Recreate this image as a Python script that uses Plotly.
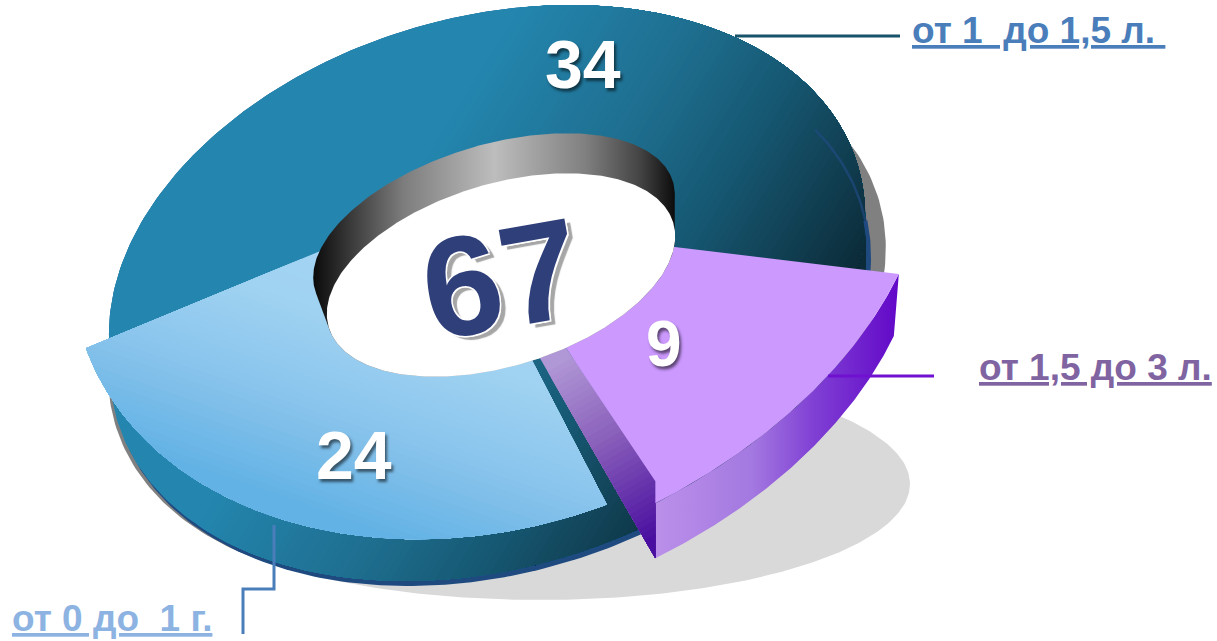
import numpy as np
import plotly.graph_objects as go

# ---------- data ----------
categories = ["от 1\u00a0 до 1,5 л.\u00a0", "от 1,5 до 3 л.", "от 0 до\u00a0 1 г."]
values = [34, 9, 24]
total = sum(values)

# ---------- projection of the tilted ring (pixels, y down) ----------
W, H = 1217, 641
PHI = np.radians(16.3)
TOP = dict(c=(487, 275), a=386.6, b=257.6)
SIDE = dict(c=(488, 311), a=386.6, b=257.6)
NAVY = dict(c=(491, 316), a=386.6, b=257.6)
GREY = dict(c=(497, 312), a=398, b=258)
SHADOW = dict(c=(540, 484), a=370, b=116)
WHITE = dict(c=(501, 275), a=180, b=91)
WALL = dict(c=(494, 236), a=187, b=91)
LIGHT_FACE = dict(c=(480, 216), a=416, b=314)
PURPLE_FACE = dict(c=(427, 227), a=514, b=342.6)


def ell(e, t, phi=PHI, shift=(0, 0)):
    t = np.asarray(t, float)
    x = e["c"][0] + shift[0] + e["a"] * np.cos(t) * np.cos(phi) + e["b"] * np.sin(t) * np.sin(phi)
    y = e["c"][1] + shift[1] - e["a"] * np.cos(t) * np.sin(phi) + e["b"] * np.sin(t) * np.cos(phi)
    return np.column_stack([x, y])


FULL = np.linspace(0, 2 * np.pi, 361)


def warp(frac):
    """Pie fraction -> ellipse parameter, with the picture's perspective distortion."""
    th = np.radians(frac * 360)
    return np.radians(190.5 + 5.13 * (1 - np.cos(th)) - 11.71 * np.sin(th)) + th


cum = np.cumsum([0] + values) / total
bounds = warp(cum)


def hull(points):
    pts = sorted(map(tuple, points))
    def half(seq):
        out = []
        for p in seq:
            while len(out) > 1 and (out[-1][0]-out[-2][0])*(p[1]-out[-2][1]) - (out[-1][1]-out[-2][1])*(p[0]-out[-2][0]) <= 0:
                out.pop()
            out.append(p)
        return out[:-1]
    return np.array(half(pts) + half(pts[::-1]))


def clip(poly, n, c):
    d = poly @ np.asarray(n) - c
    out = []
    for i in range(len(poly)):
        j = (i + 1) % len(poly)
        if d[i] >= 0:
            out.append(poly[i])
        if d[i] * d[j] < 0:
            s = d[i] / (d[i] - d[j])
            out.append(poly[i] + s * (poly[j] - poly[i]))
    return np.array(out) if out else None


def hex2rgb(h):
    return np.array([int(h[i:i + 2], 16) for i in (1, 3, 5)], float)


fig = go.Figure()


def solid(poly, color):
    p = np.vstack([poly, poly[0]])
    fig.add_trace(go.Scatter(x=p[:, 0], y=p[:, 1], mode="lines", fill="toself", fillcolor=color,
                             line=dict(width=0, color=color), hoverinfo="skip", showlegend=False))


def gradient(poly, n, stops, steps=40):
    ds = [s[0] for s in stops]
    rgb = np.array([hex2rgb(s[1]) for s in stops])
    for k, d in enumerate(np.linspace(ds[0], ds[-1], steps)):
        col = [np.interp(d, ds, rgb[:, i]) for i in range(3)]
        c = "rgb(%d,%d,%d)" % tuple(col)
        p = poly if k == 0 else clip(poly, n, d)
        if p is not None and len(p) > 2:
            solid(p, c)


def hgrad(poly, x0, x1, scale):
    p = np.vstack([poly, poly[0]])
    fig.add_trace(go.Scatter(x=p[:, 0], y=p[:, 1], mode="lines", fill="toself",
                             fillgradient=dict(type="horizontal", colorscale=scale, start=x0, stop=x1),
                             line=dict(width=0), hoverinfo="skip", showlegend=False))


def line(xs, ys, color, width):
    fig.add_trace(go.Scatter(x=xs, y=ys, mode="lines", line=dict(color=color, width=width),
                             hoverinfo="skip", showlegend=False))


def wedge(e, t0, t1, apex, shift=(0, 0)):
    arc = ell(e, np.linspace(t0, t1, 120), shift=shift)
    return np.vstack([[apex], arc])


TEAL_N = (0.85, 0.53)
TEAL = [(440, "#2486af"), (600, "#1f6f90"), (700, "#175a75"), (800, "#113f52"), (870, "#0c2b38")]
LIGHT_N = (-0.33, 0.944)
LIGHT = [(139, "#a3d4f3"), (187, "#a0d2f1"), (268, "#8cc6ee"), (299, "#82c0ea"), (347, "#6eb8e8"), (375, "#63b2e5")]

# shadows and side walls
solid(ell(SHADOW, FULL, phi=0), "#d9d9d9")
solid(ell(GREY, FULL), "#808080")
solid(hull(np.vstack([ell(TOP, FULL), ell(NAVY, FULL)])), "#1f4a80")
side = hull(np.vstack([ell(TOP, FULL), ell(SIDE, FULL)]))
gradient(side, TEAL_N, TEAL, 70)

# slice 0: dark ring part
gradient(wedge(TOP, bounds[0], bounds[1], TOP["c"]), TEAL_N, TEAL, 70)
line(*ell(NAVY, np.radians(np.linspace(-20, 3, 30))).T, "rgba(31,74,128,0.7)", 2.5)
line(*ell(NAVY, np.radians(np.linspace(3, 14, 20))).T, "rgba(31,74,128,1)", 4)

# slice 2: light blue part (its face has its own outline; parameter range trimmed to it)
LIGHT_APEX = (448, 198)
gradient(wedge(LIGHT_FACE, bounds[2] + np.radians(5.4), bounds[3] - np.radians(13.5), LIGHT_APEX), LIGHT_N, LIGHT, 40)

# slice 1: exploded purple part with its side walls
PUR_APEX = (483, 224)
pts = ell(PURPLE_FACE, np.linspace(bounds[1] + np.radians(7.2), bounds[2] - np.radians(5), 120))
off = np.column_stack([np.linspace(-5, 0, 120), np.linspace(62, 55, 120)])
strip = np.vstack([pts, (pts + off)[::-1]])
hgrad(strip, pts[:, 0].min(), pts[:, 0].max(),
      [[0, "#bb90ea"], [0.4, "#a378e0"], [0.65, "#8040d4"], [1, "#6208c8"]])
E2 = pts[-1] + np.array([0, -22])
E1 = E2 + 0.75 * (np.array(PUR_APEX) - E2)
B2 = pts[-1] + off[-1]
B1 = B2 + np.array([-154, -267])
gradient(np.array([E1, E2, B2, B1]), (0.5, 0.866), [(590, "#b097d6"), (680, "#8a60bb"), (790, "#4a0fa0")], 35)
solid(np.vstack([[PUR_APEX], pts, [E2]]), "#cc99ff")

# leaders
line([735, 900], [36, 36], "#17536b", 3)
line([828, 934], [376, 376], "#7010d0", 3)
line([274, 274, 243, 243], [525, 589, 589, 634], "#4a7ebb", 3)

# centre hole
hgrad(hull(np.vstack([ell(WALL, FULL, np.radians(17)), ell(WHITE, FULL, np.radians(17))])), 313, 676,
      [[0, "#0a0a0a"], [0.25, "#7d7d7d"], [0.5, "#bdbdbd"], [0.75, "#808080"], [0.9, "#444444"], [1, "#0a0a0a"]])
solid(ell(WHITE, FULL, np.radians(17)), "#ffffff")

# value labels
SH = "2px 3px 3px rgba(0,0,0,0.55)"
labs = [(583, 64, str(values[0]), 68), (664, 344, str(values[1]), 64), (354, 455, str(values[2]), 68)]
anns = [dict(x=x, y=y, text="<b>%s</b>" % t, showarrow=False, xanchor="center", yanchor="middle",
             font=dict(family="Liberation Sans", size=s, color="#ffffff", shadow=SH))
        for x, y, t, s in labs]
anns.append(dict(x=501, y=278, text="<b>%d</b>" % total, showarrow=False, textangle=-10,
                 xanchor="center", yanchor="middle",
                 font=dict(family="Liberation Sans", size=142, color="#2f3f7a",
                           shadow="1.5px 1.5px 0 #fff,-1px -1px 0 #fff,1.5px -1px 0 #fff,-1px 1.5px 0 #fff,5px 5px 1px #a6a6a6")))
cat = [(910, 30, categories[0], "#4a7ebb"), (977, 367, categories[1], "#8064a2"), (10, 618, categories[2], "#8db3e2")]
for x, y, t, c in cat:
    anns.append(dict(x=x, y=y, text="<b>%s</b>" % t, showarrow=False, xanchor="left", yanchor="middle",
                     font=dict(family="Liberation Sans", size=37, color=c, lineposition="under")))

fig.update_layout(width=W, height=H, autosize=False, margin=dict(l=0, r=0, t=0, b=0),
                  paper_bgcolor="#ffffff", plot_bgcolor="#ffffff", showlegend=False, annotations=anns,
                  xaxis=dict(range=[0, W], visible=False, fixedrange=True),
                  yaxis=dict(range=[H, 0], visible=False, fixedrange=True))
fig.write_html("out.html", config=dict(displayModeBar=False),
               post_script="document.body.style.margin='0';")
